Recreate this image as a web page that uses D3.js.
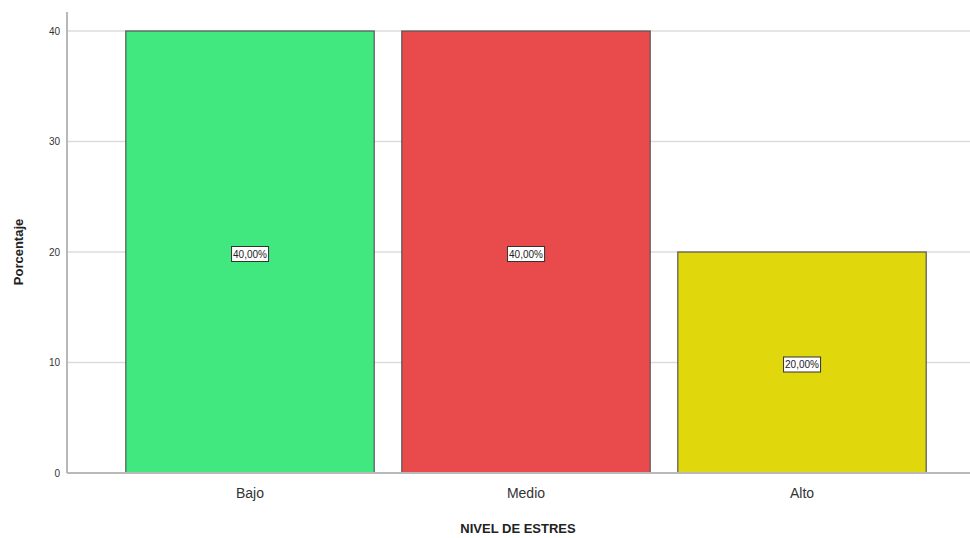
<!DOCTYPE html>
<html>
<head>
<meta charset="utf-8">
<script src="https://cdn.jsdelivr.net/npm/d3@7"></script>
<style>
  body { margin: 0; background: #fff; }
  svg { display: block; font-family: "Liberation Sans", Arial, sans-serif; }
</style>
</head>
<body>
<svg id="chart" width="970" height="538"></svg>
<script>
const categories = ["Bajo", "Medio", "Alto"];
const values = [40, 40, 20];
const labels = ["40,00%", "40,00%", "20,00%"];
const colors = ["#41E87F", "#E94A4C", "#E1D70D"];
const yTicks = [0, 10, 20, 30, 40];

const svg = d3.select("#chart");
const plotLeft = 67, plotRight = 970, plotTop = 31, plotBottom = 473;

const x = d3.scaleBand().domain(categories).range([112, 940]).paddingInner(0.1).paddingOuter(0.05);
const y = d3.scaleLinear().domain([0, 40]).range([plotBottom, plotTop]);

// gridlines
svg.append("g").selectAll("line")
  .data(yTicks.filter(d => d > 0))
  .enter().append("line")
  .attr("x1", plotLeft).attr("x2", plotRight)
  .attr("y1", d => y(d)).attr("y2", d => y(d))
  .style("stroke", "#dcdcdc").style("stroke-width", 1.5);

// bars
const bars = svg.append("g").selectAll("g")
  .data(categories)
  .enter().append("g");

bars.append("rect")
  .attr("x", d => x(d))
  .attr("width", x.bandwidth())
  .attr("y", (d, i) => y(values[i]))
  .attr("height", (d, i) => y(0) - y(values[i]))
  .style("fill", (d, i) => colors[i])
  .style("stroke", "#555").style("stroke-width", 1.2);

// value labels (box sits just under the midpoint, as in SPSS output)
bars.each(function (d, i) {
  const g = d3.select(this);
  const cx = x(d) + x.bandwidth() / 2, cy = y(values[i] / 2) + 2;
  const t = g.append("text")
    .attr("x", cx).attr("y", cy + 3.5)
    .attr("text-anchor", "middle")
    .style("font-size", "10px").style("fill", "#222")
    .text(labels[i]);
  const bb = t.node().getBBox();
  g.insert("rect", "text")
    .attr("x", bb.x - 1.5).attr("y", cy - 7.5)
    .attr("width", bb.width + 3).attr("height", 15)
    .style("fill", "#fff").style("stroke", "#333").style("stroke-width", 1);
});

// axes lines
svg.append("line").attr("x1", plotLeft).attr("x2", plotLeft).attr("y1", 12).attr("y2", plotBottom)
  .style("stroke", "#b8b8b8").style("stroke-width", 2);
svg.append("line").attr("x1", plotLeft).attr("x2", plotRight).attr("y1", plotBottom).attr("y2", plotBottom)
  .style("stroke", "#b8b8b8").style("stroke-width", 2);

// y tick labels
svg.append("g").selectAll("text")
  .data(yTicks)
  .enter().append("text")
  .attr("x", 60).attr("y", d => y(d) + 3.5)
  .attr("text-anchor", "end")
  .style("font-size", "10px").style("fill", "#333")
  .text(d => d);

// x tick labels
svg.append("g").selectAll("text")
  .data(categories)
  .enter().append("text")
  .attr("x", d => x(d) + x.bandwidth() / 2).attr("y", 498)
  .attr("text-anchor", "middle")
  .style("font-size", "14px").style("fill", "#333")
  .text(d => d);

// axis titles
svg.append("text")
  .attr("x", 518).attr("y", 533)
  .attr("text-anchor", "middle")
  .style("font-size", "13px").style("font-weight", "bold").style("fill", "#222")
  .text("NIVEL DE ESTRES");

svg.append("text")
  .attr("transform", "translate(23,252) rotate(-90)")
  .attr("text-anchor", "middle")
  .style("font-size", "13px").style("font-weight", "bold").style("fill", "#222")
  .text("Porcentaje");
</script>
</body>
</html>
